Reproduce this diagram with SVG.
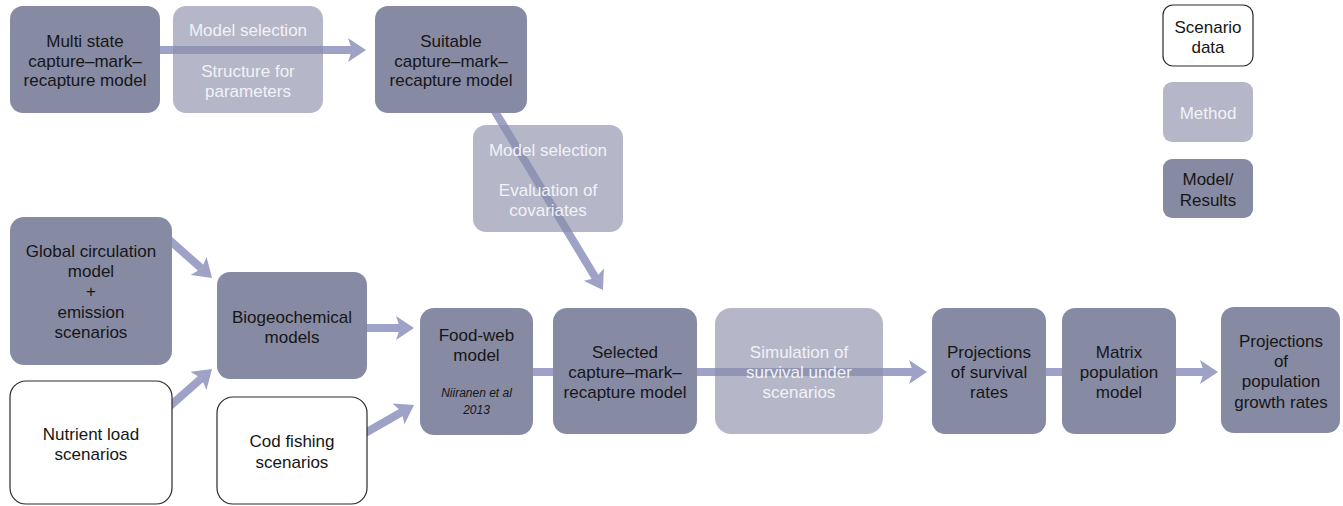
<svg xmlns="http://www.w3.org/2000/svg" width="1343" height="506" viewBox="0 0 1343 506">
<style>
text{font-family:"Liberation Sans",Arial,sans-serif;font-size:17px;text-anchor:middle}
.dk rect{fill:#878aa3}
.dk text{fill:#161616}
.lt rect{fill:#8a8da9;fill-opacity:0.63}
.lt text{fill:#f1f2f6}
.wh rect{fill:#fff;stroke:#2a2a2a;stroke-width:1.2}
.wh text{fill:#161616}
.cn{fill:none;stroke:#9da2c6;stroke-width:8}
.cite{font-size:12px;font-style:italic}
</style>
<defs>
<marker id="ah" markerUnits="userSpaceOnUse" markerWidth="18" markerHeight="24" viewBox="0 0 18 24" refX="4" refY="12" orient="auto">
<path d="M0,0 L18,12 L0,24 L4,12 z" fill="#9da2c6"/>
</marker>
</defs>
<g id="connectors">
<path class="cn" d="M150,50 L352,50" marker-end="url(#ah)"/>
<path class="cn" d="M485,95 L595.7,278" marker-end="url(#ah)"/>
<path class="cn" d="M166,237 L201.6,268.6" marker-end="url(#ah)"/>
<path class="cn" d="M166,409.5 L201.5,378.3" marker-end="url(#ah)"/>
<path class="cn" d="M360,328 L400,328" marker-end="url(#ah)"/>
<path class="cn" d="M360,436 L401.9,412" marker-end="url(#ah)"/>
<path class="cn" d="M480,372 L913,372" marker-end="url(#ah)"/>
<path class="cn" d="M1000,372 L1100,372"/>
<path class="cn" d="M1170,372 L1204,372" marker-end="url(#ah)"/>
</g>
<g id="multistate" class="dk">
<rect x="10" y="6" width="150" height="107" rx="13"/>
<text x="85" y="47">Multi state</text>
<text x="85" y="67">capture–mark–</text>
<text x="85" y="86">recapture model</text>
</g>
<g id="method1" class="lt">
<rect x="173" y="6" width="150" height="107" rx="13"/>
<text x="248" y="36">Model selection</text>
<text x="248" y="77">Structure for</text>
<text x="248" y="97">parameters</text>
</g>
<g id="suitable" class="dk">
<rect x="375" y="6" width="152" height="107" rx="13"/>
<text x="451" y="47">Suitable</text>
<text x="451" y="67">capture–mark–</text>
<text x="451" y="86">recapture model</text>
</g>
<g id="method2" class="lt">
<rect x="473" y="125" width="150" height="107" rx="13"/>
<text x="548" y="156">Model selection</text>
<text x="548" y="196">Evaluation of</text>
<text x="548" y="216">covariates</text>
</g>
<g id="global" class="dk">
<rect x="10" y="217" width="162" height="148" rx="14"/>
<text x="91" y="257">Global circulation</text>
<text x="91" y="277">model</text>
<text x="91" y="297">+</text>
<text x="91" y="318">emission</text>
<text x="91" y="338">scenarios</text>
</g>
<g id="nutrient" class="wh">
<rect x="10" y="381" width="162" height="123" rx="16"/>
<text x="91" y="440">Nutrient load</text>
<text x="91" y="460">scenarios</text>
</g>
<g id="biogeo" class="dk">
<rect x="217" y="272" width="150" height="107" rx="13"/>
<text x="292" y="323">Biogeochemical</text>
<text x="292" y="343">models</text>
</g>
<g id="cod" class="wh">
<rect x="217" y="397" width="150" height="107" rx="16"/>
<text x="292" y="447">Cod fishing</text>
<text x="292" y="468">scenarios</text>
</g>
<g id="foodweb" class="dk">
<rect x="420" y="308" width="113" height="127" rx="14"/>
<text x="476.5" y="341">Food-web</text>
<text x="476.5" y="361">model</text>
<text class="cite" x="476.5" y="397">Niiranen et al</text>
<text class="cite" x="476.5" y="414">2013</text>
</g>
<g id="selected" class="dk">
<rect x="553" y="308" width="144" height="126" rx="14"/>
<text x="625" y="358">Selected</text>
<text x="625" y="378">capture–mark–</text>
<text x="625" y="398">recapture model</text>
</g>
<g id="simulation" class="lt">
<rect x="715" y="308" width="168" height="126" rx="16"/>
<text x="799" y="358">Simulation of</text>
<text x="799" y="378">survival under</text>
<text x="799" y="398">scenarios</text>
</g>
<g id="projsurv" class="dk">
<rect x="932" y="308" width="114" height="126" rx="13"/>
<text x="989" y="358">Projections</text>
<text x="989" y="378">of survival</text>
<text x="989" y="398">rates</text>
</g>
<g id="matrix" class="dk">
<rect x="1062" y="308" width="114" height="126" rx="13"/>
<text x="1119" y="358">Matrix</text>
<text x="1119" y="378">population</text>
<text x="1119" y="398">model</text>
</g>
<g id="projpop" class="dk">
<rect x="1221" y="307" width="119" height="126" rx="13"/>
<text x="1281" y="347">Projections</text>
<text x="1281" y="367">of</text>
<text x="1281" y="387">population</text>
<text x="1281" y="408">growth rates</text>
</g>
<g id="legend-scenario" class="wh">
<rect x="1163" y="5" width="90" height="61" rx="10"/>
<text x="1208" y="33">Scenario</text>
<text x="1208" y="53">data</text>
</g>
<g id="legend-method" class="lt">
<rect x="1163" y="82" width="90" height="60" rx="9"/>
<text x="1208" y="119">Method</text>
</g>
<g id="legend-model" class="dk">
<rect x="1163" y="159" width="90" height="59" rx="9"/>
<text x="1208" y="185">Model/</text>
<text x="1208" y="206">Results</text>
</g>
</svg>
